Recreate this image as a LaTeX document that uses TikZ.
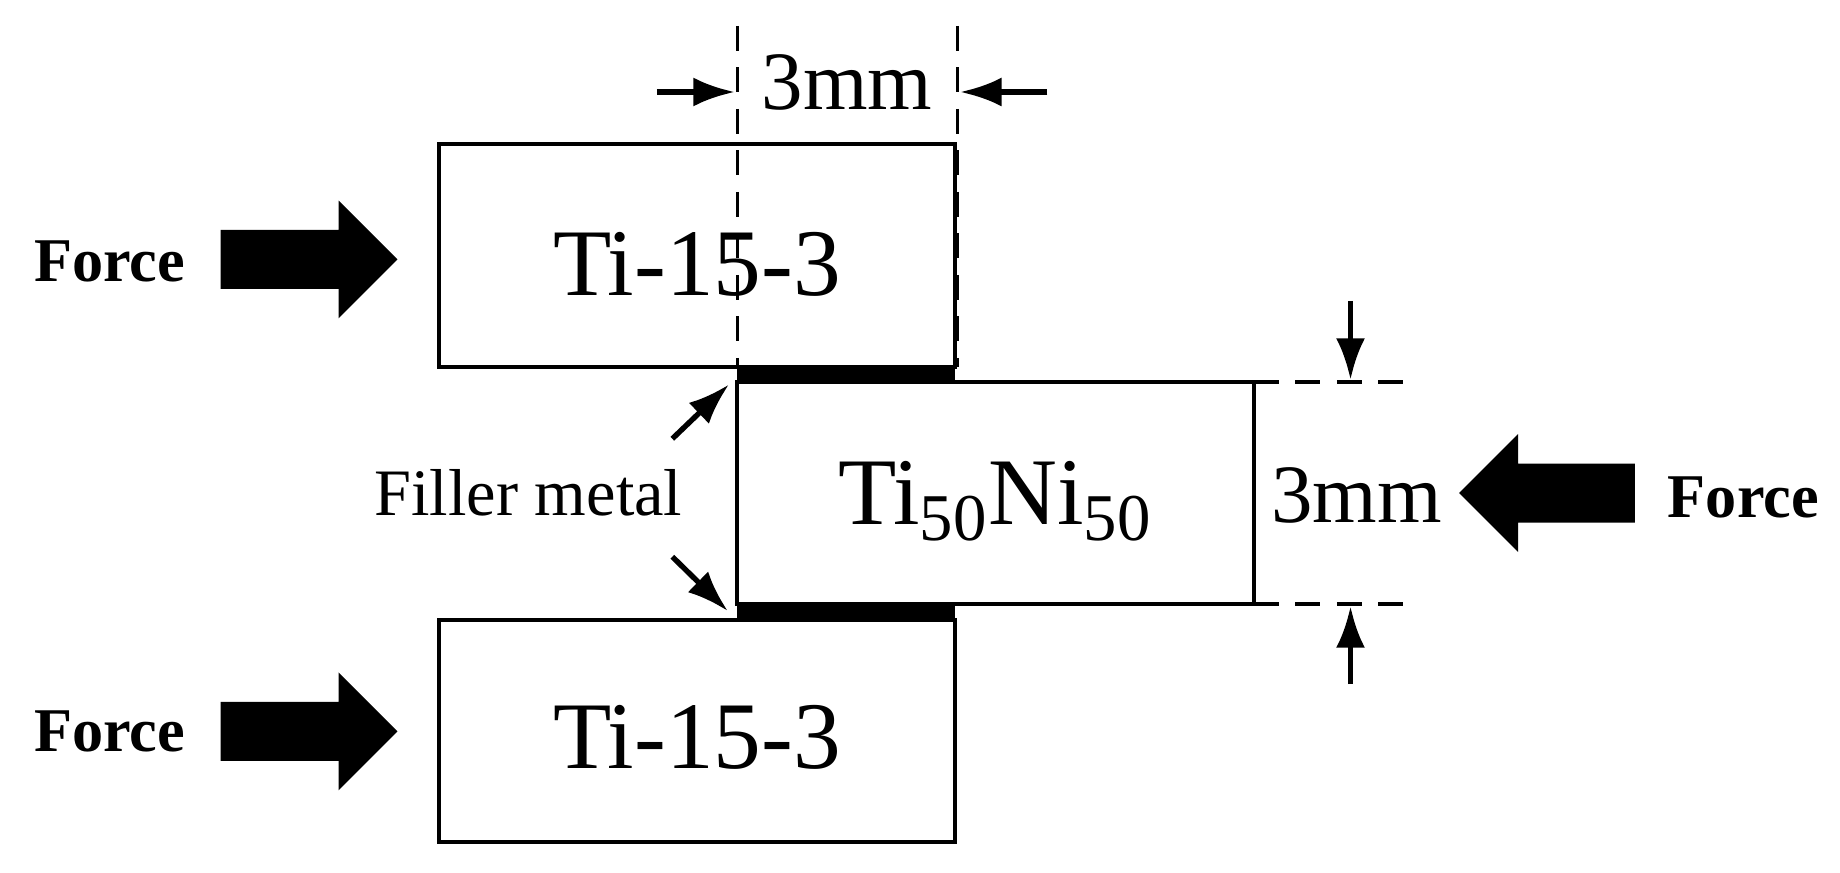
\documentclass[tikz,border=0pt]{standalone}
\usepackage{fontspec}
\setmainfont{Liberation Serif}
\usetikzlibrary{arrows.meta}
\begin{document}
\begin{tikzpicture}[x=0.01cm,y=-0.01cm,
 box/.style={draw,line width=1pt},
 dline/.style={line width=0.8pt,dash pattern=on 6pt off 4pt},
 dim/.style={-{Latex[length=10pt,width=7pt]},line width=1.3pt},
 ftext/.style={font=\fontsize{15}{18}\selectfont\bfseries},
 big/.style={font=\fontsize{23}{28}\selectfont}]
\useasboundingbox (0,0) rectangle (1560,740);
\fill[black] (625,311) rectangle (810,324);
\fill[black] (625,512) rectangle (810,526);
\draw[box] (372,122) rectangle (810,311);
\draw[box] (625,324) rectangle (1063,512);
\draw[box] (372,526) rectangle (810,714);
\node[big] (t) at (591,224) {Ti-15-3};
\node[big] (m) at (844,425) {Ti\textsubscript{50}Ni\textsubscript{50}};
\node[big] (b) at (591,625) {Ti-15-3};
\coordinate (d1a) at (625,22); \coordinate (d1b) at (625,311);
\coordinate (d2a) at (812,22); \coordinate (d2b) at (812,311);
\draw[dline] (d1a)--(d1b); \draw[dline] (d2a)--(d2b);
\coordinate (a1) at (557,78); \coordinate (a1e) at (623,78);
\coordinate (a2) at (888,78); \coordinate (a2e) at (814,78);
\draw[dim] (a1)--(a1e); \draw[dim] (a2)--(a2e);
\node[font=\fontsize{20}{24}\selectfont] (w) at (718,70) {3mm};
\coordinate (h1a) at (1063,324); \coordinate (h1b) at (1200,324);
\coordinate (h2a) at (1063,512); \coordinate (h2b) at (1200,512);
\draw[dline] (h1a)--(h1b); \draw[dline] (h2a)--(h2b);
\coordinate (v1) at (1145,255); \coordinate (v1e) at (1145,322);
\coordinate (v2) at (1145,580); \coordinate (v2e) at (1145,514);
\draw[dim] (v1)--(v1e); \draw[dim] (v2)--(v2e);
\node[font=\fontsize{20}{24}\selectfont] (hh) at (1150,420) {3mm};
\fill (187,195) -- (287,195) -- (287,170) -- (337,220) -- (287,270) -- (287,245) -- (187,245) -- cycle;
\fill (187,595) -- (287,595) -- (287,570) -- (337,620) -- (287,670) -- (287,645) -- (187,645) -- cycle;
\fill (1386,393) -- (1287,393) -- (1287,368) -- (1237,418) -- (1287,468) -- (1287,443) -- (1386,443) -- cycle;
\node[ftext] (ft1) at (93,222) {Force};
\node[ftext] (ft2) at (93,620) {Force};
\node[ftext] (ft3) at (1478,422) {Force};
\node[font=\fontsize{16}{20}\selectfont] (fm) at (448,418) {Filler metal};
\coordinate (p1) at (618,326); \coordinate (p2) at (617,518);
\coordinate (q1) at (570,372); \coordinate (q2) at (570,472);
\draw[dim] (q1)--(p1); \draw[dim] (q2)--(p2);
\end{tikzpicture}
\end{document}
